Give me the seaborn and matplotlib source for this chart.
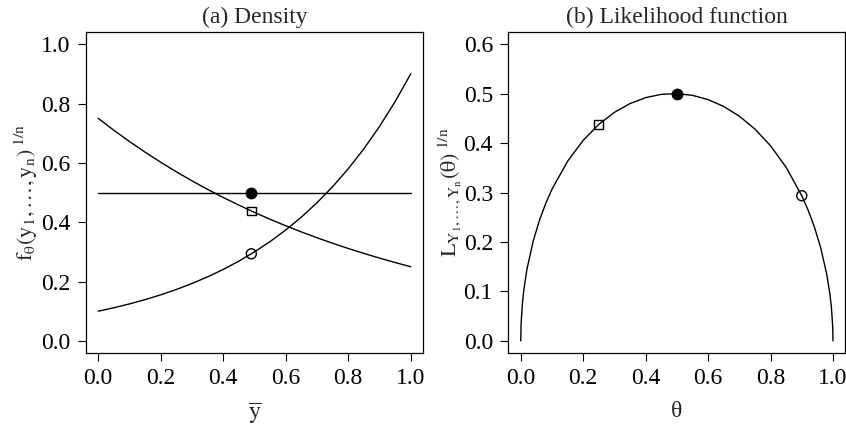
import matplotlib
matplotlib.use("Agg")
import matplotlib.pyplot as plt
import seaborn as sns

# panel (a): rescaled density against y-bar, for three theta values
ybar_grid = [0.0, 0.05, 0.1, 0.15, 0.2, 0.25, 0.3, 0.35, 0.4, 0.45, 0.5,
             0.55, 0.6, 0.65, 0.7, 0.75, 0.8, 0.85, 0.9, 0.95, 1.0]
dens_theta_025 = [0.75, 0.7099, 0.6720, 0.6361, 0.6021, 0.5699, 0.5394, 0.5106, 0.4833, 0.4575, 0.4330,
                  0.4099, 0.3880, 0.3672, 0.3476, 0.3290, 0.3114, 0.2948, 0.2790, 0.2641, 0.25]
dens_theta_09 = [0.1, 0.1116, 0.1246, 0.1390, 0.1552, 0.1732, 0.1933, 0.2158, 0.2408, 0.2688, 0.3,
                 0.3348, 0.3737, 0.4171, 0.4656, 0.5196, 0.5800, 0.6473, 0.7225, 0.8064, 0.9]
flat_x = [0.0, 1.0]
dens_theta_05 = [0.5, 0.5]

# panel (b): rescaled likelihood against theta
theta_grid = [0.0, 0.001, 0.005, 0.01, 0.02, 0.04, 0.06, 0.08, 0.1, 0.15, 0.2, 0.25, 0.3, 0.35,
              0.4, 0.45, 0.5, 0.55, 0.6, 0.65, 0.7, 0.75, 0.8, 0.85, 0.9, 0.92, 0.94, 0.96,
              0.98, 0.99, 0.995, 0.999, 1.0]
lik = [0.0, 0.0339, 0.0743, 0.1042, 0.1456, 0.2023, 0.2441, 0.2780, 0.3067, 0.3633, 0.4056,
       0.4378, 0.4622, 0.4799, 0.4919, 0.4985, 0.5, 0.4965, 0.4879, 0.4740, 0.4544, 0.4283,
       0.3945, 0.3509, 0.2935, 0.2648, 0.2310, 0.1898, 0.1347, 0.0950, 0.0669, 0.0295, 0.0]

# observed y-bar and marked points
ybar_obs = 0.49
pts_dens = {"filled": 0.5, "square": 0.438, "circle": 0.2935}
pts_theta = {"filled": 0.5, "square": 0.25, "circle": 0.9}
pts_lik = {"filled": 0.5, "square": 0.438, "circle": 0.2935}

sns.set_style("ticks")
plt.rcParams["font.family"] = ["Liberation Serif", "DejaVu Serif"]
plt.rcParams["mathtext.fontset"] = "stix"

fig = plt.figure(figsize=(8.46, 4.25), dpi=100)
ax1 = fig.add_axes([0.1013, 0.170, 0.399, 0.754])
ax2 = fig.add_axes([0.6008, 0.170, 0.3986, 0.754])

lw = 1.0
sns.lineplot(x=ybar_grid, y=dens_theta_025, color="black", lw=lw, ax=ax1)
sns.lineplot(x=ybar_grid, y=dens_theta_09, color="black", lw=lw, ax=ax1)
sns.lineplot(x=flat_x, y=dens_theta_05, color="black", lw=lw, ax=ax1)
sns.lineplot(x=theta_grid, y=lik, color="black", lw=lw, ax=ax2)


def add_points(ax, xs, ys):
    sns.scatterplot(x=[xs["filled"]], y=[ys["filled"]], marker="o", s=62,
                    color="black", edgecolor="black", ax=ax, zorder=3)
    sns.scatterplot(x=[xs["square"]], y=[ys["square"]], marker="s", s=40,
                    facecolors="none", edgecolors="black", linewidth=1, ax=ax, zorder=3)
    sns.scatterplot(x=[xs["circle"]], y=[ys["circle"]], marker="o", s=52,
                    facecolors="none", edgecolors="black", linewidth=1, ax=ax, zorder=3)


add_points(ax1, {k: ybar_obs for k in pts_dens}, pts_dens)
add_points(ax2, pts_theta, pts_lik)

fs = 17
for ax in (ax1, ax2):
    ax.set_xlim(-0.04, 1.04)
    ax.set_xticks([0.0, 0.2, 0.4, 0.6, 0.8, 1.0])
    ax.set_xticklabels(["0.0", "0.2", "0.4", "0.6", "0.8", "1.0"])
    ax.tick_params(direction="out", length=6, width=0.8, labelsize=fs, colors="black", pad=5)
    for sp in ax.spines.values():
        sp.set_visible(True)
        sp.set_color("black")
        sp.set_linewidth(0.9)

ax1.set_ylim(-0.04, 1.04)
ax1.set_yticks([0.0, 0.2, 0.4, 0.6, 0.8, 1.0])
ax1.set_yticklabels(["0.0", "0.2", "0.4", "0.6", "0.8", "1.0"])
ax2.set_ylim(-0.024, 0.624)
ax2.set_yticks([0.0, 0.1, 0.2, 0.3, 0.4, 0.5, 0.6])
ax2.set_yticklabels(["0.0", "0.1", "0.2", "0.3", "0.4", "0.5", "0.6"])

ax1.set_title("(a) Density", fontsize=17, pad=7)
ax2.set_title("(b) Likelihood function", fontsize=17, pad=7)

ax1.set_xlabel(r"$\overline{\mathrm{y}}$", fontsize=fs)
ax2.set_xlabel("θ", fontsize=fs)
ax1.xaxis.set_label_coords(0.5, -0.15)
ax2.xaxis.set_label_coords(0.5, -0.15)

ax1.set_ylabel(r"$\mathrm{f}_{\mathrm{θ}}(\mathrm{y}_1,\ldots,\mathrm{y}_\mathrm{n})^{\ 1/\mathrm{n}}$", fontsize=16)
ax2.set_ylabel(r"$\mathrm{L}_{\mathrm{Y}_1,\ldots,\mathrm{Y}_\mathrm{n}}(\mathrm{θ})^{\ 1/\mathrm{n}}$", fontsize=16)
ax1.yaxis.set_label_coords(-0.135, 0.5)
ax2.yaxis.set_label_coords(-0.135, 0.5)

fig.savefig("out.png", dpi=100)
